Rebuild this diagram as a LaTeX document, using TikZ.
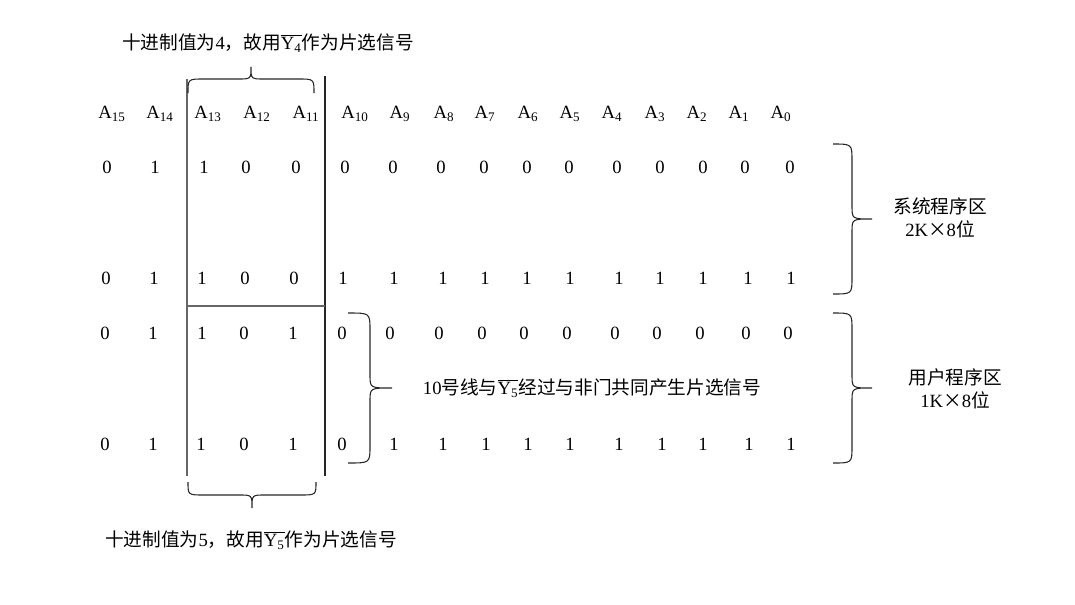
\documentclass[tikz,border=0pt]{standalone}
\usepackage{fontspec}
\setmainfont{Liberation Serif}
\newfontfamily\cjk{Noto Sans CJK SC}
\newcommand\myRbrace[5]{% x0, y0, y1, xv, xt  (right-pointing)
  \pgfmathsetmacro\ym{(#2+#3)/2}%
  \draw[brc] (#1,#2) .. controls (#4,#2) .. (#4,#2+17) -- (#4,\ym-13)
    .. controls (#4,\ym) .. (#5,\ym) .. controls (#4,\ym) .. (#4,\ym+13)
    -- (#4,#3-17) .. controls (#4,#3) .. (#1,#3);}
\newcommand\myHbrace[5]{% x0, x1, yend, yflat, ytip  (horizontal brace)
  \pgfmathsetmacro\xm{(#1+#2)/2}%
  \draw[brc] (#1,#3) .. controls (#1,#4) .. (#1+16,#4) -- (\xm-13,#4)
    .. controls (\xm,#4) .. (\xm,#5) .. controls (\xm,#4) .. (\xm+13,#4)
    -- (#2-16,#4) .. controls (#2,#4) .. (#2,#3);}
\begin{document}
\begin{tikzpicture}[x=0.75pt,y=-0.75pt,
  every node/.style={font=\fontsize{14}{17}\selectfont, inner sep=0pt},
  brc/.style={draw=black!85, line width=0.8pt},
  gline/.style={draw=black!60, line width=1.3pt},
  dline/.style={draw=black!85, line width=0.9pt}]
\useasboundingbox (0,0) rectangle (1075,604);
% header
\foreach \x/\s in {112/15,160/14,208/13,257/12,306/11,355/10,400/9,444/8,485/7,528/6,570/5,612/4,655/3,697/2,739/1,781/0}
  \node (h\s) at (\x,114) {A\textsubscript{\s}};
% rows
\foreach \x/\v [count=\c] in {107/0,155/1,204/1,246/0,296/0,345/0,393/0,441/0,484/0,527/0,569/0,617/0,660/0,703/0,745/0,790/0}
  \node (ra\c) at (\x,167) {\v};
\foreach \x/\v [count=\c] in {106/0,154/1,202/1,245/0,294/0,343/1,394/1,443/1,485/1,527/1,570/1,619/1,660/1,703/1,748/1,791/1}
  \node (rb\c) at (\x,278) {\v};
\foreach \x/\v [count=\c] in {105/0,153/1,202/1,244/0,293/1,342/0,390/0,439/0,482/0,524/0,567/0,615/0,657/0,700/0,746/0,788/0}
  \node (rc\c) at (\x,333) {\v};
\foreach \x/\v [count=\c] in {105/0,153/1,201/1,244/0,293/1,342/0,394/1,443/1,486/1,528/1,570/1,619/1,662/1,703/1,749/1,791/1}
  \node (rd\c) at (\x,444) {\v};
% box lines
\coordinate (lt) at (187,79); \coordinate (lb) at (187,476);
\coordinate (rt) at (325,76); \coordinate (rb) at (325,476);
\coordinate (ml) at (187,306); \coordinate (mr) at (325,306);
\draw[gline] (lt) -- (lb);
\draw[dline] (rt) -- (rb);
\draw[gline] (ml) -- (mr);
% braces
\myHbrace{188}{314}{93}{79}{67}
\myHbrace{188}{316}{482}{495}{508}
\myRbrace{348}{313}{463}{370}{392}
\myRbrace{833}{144}{294}{852}{872}
\myRbrace{833}{313}{463}{852}{872}
% texts
\node (top) at (268,43) {{\cjk 十进制值为}4{\cjk ，故用}$\overline{\hbox{Y\textsubscript{4}}}${\cjk 作为片选信号}};
\node (bot) at (251,540) {{\cjk 十进制值为}5{\cjk ，故用}$\overline{\hbox{Y\textsubscript{5}}}${\cjk 作为片选信号}};
\node (mid) at (592,388) {10{\cjk 号线与}$\overline{\hbox{Y\textsubscript{5}}}${\cjk 经过与非门共同产生片选信号}};
\node[align=center] (sys) at (940,218) {{\cjk 系统程序区}\\2K{\cjk ×}8{\cjk 位}};
\node[align=center] (usr) at (955,389) {{\cjk 用户程序区}\\1K{\cjk ×}8{\cjk 位}};
\end{tikzpicture}
\end{document}
